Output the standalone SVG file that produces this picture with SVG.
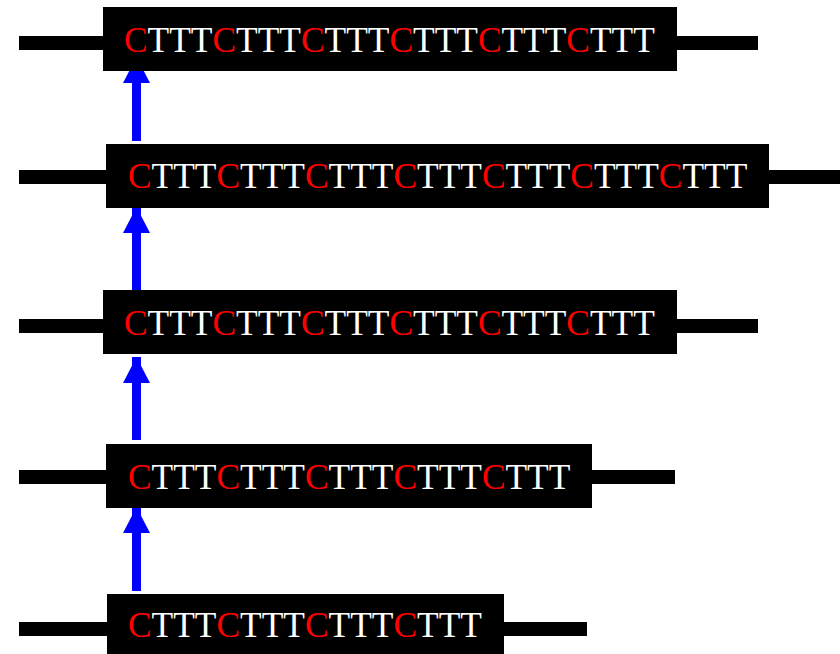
<svg xmlns="http://www.w3.org/2000/svg" width="840" height="654" viewBox="0 0 840 654">
<style>
.strand{stroke:#000;stroke-width:14;fill:none}
.box{fill:#000}
.seq{font-family:"Liberation Serif","Times New Roman",serif;font-size:35.4px;fill:#fff}
.c{fill:#ff0000}
.arrow{stroke:#0000ff;stroke-width:9;fill:none}
</style>
<defs>
<marker id="head" markerUnits="userSpaceOnUse" markerWidth="26" markerHeight="27" viewBox="0 0 26 27" refX="26" refY="13.5" orient="auto">
<path d="M0,0 L26,13.5 L0,27 z" fill="#0000ff"/>
</marker>
</defs>
<rect width="840" height="654" fill="#fff"/>
<g id="connectors">
<line class="arrow" x1="136.5" y1="141" x2="136.5" y2="57" marker-end="url(#head)"/>
<line class="arrow" x1="136.5" y1="291" x2="136.5" y2="207" marker-end="url(#head)"/>
<line class="arrow" x1="136.5" y1="440" x2="136.5" y2="357" marker-end="url(#head)"/>
<line class="arrow" x1="136.5" y1="591" x2="136.5" y2="507" marker-end="url(#head)"/>
</g>
<g id="row1">
<line class="strand" x1="19" y1="43" x2="758" y2="43"/>
<rect class="box" x="103" y="7" width="574" height="64"/>
<text class="seq" x="124" y="52"><tspan class="c">C</tspan>TTT<tspan class="c">C</tspan>TTT<tspan class="c">C</tspan>TTT<tspan class="c">C</tspan>TTT<tspan class="c">C</tspan>TTT<tspan class="c">C</tspan>TTT</text>
</g>
<g id="row2">
<line class="strand" x1="19" y1="177" x2="840" y2="177"/>
<rect class="box" x="106" y="144" width="663" height="64"/>
<text class="seq" x="128" y="188"><tspan class="c">C</tspan>TTT<tspan class="c">C</tspan>TTT<tspan class="c">C</tspan>TTT<tspan class="c">C</tspan>TTT<tspan class="c">C</tspan>TTT<tspan class="c">C</tspan>TTT<tspan class="c">C</tspan>TTT</text>
</g>
<g id="row3">
<line class="strand" x1="19" y1="326" x2="758" y2="326"/>
<rect class="box" x="103" y="290" width="574" height="64"/>
<text class="seq" x="124" y="335"><tspan class="c">C</tspan>TTT<tspan class="c">C</tspan>TTT<tspan class="c">C</tspan>TTT<tspan class="c">C</tspan>TTT<tspan class="c">C</tspan>TTT<tspan class="c">C</tspan>TTT</text>
</g>
<g id="row4">
<line class="strand" x1="19" y1="477" x2="675" y2="477"/>
<rect class="box" x="106" y="444" width="486" height="64"/>
<text class="seq" x="128" y="489"><tspan class="c">C</tspan>TTT<tspan class="c">C</tspan>TTT<tspan class="c">C</tspan>TTT<tspan class="c">C</tspan>TTT<tspan class="c">C</tspan>TTT</text>
</g>
<g id="row5">
<line class="strand" x1="19" y1="629" x2="587" y2="629"/>
<rect class="box" x="107" y="594" width="397" height="64"/>
<text class="seq" x="128" y="637"><tspan class="c">C</tspan>TTT<tspan class="c">C</tspan>TTT<tspan class="c">C</tspan>TTT<tspan class="c">C</tspan>TTT</text>
</g>
</svg>
